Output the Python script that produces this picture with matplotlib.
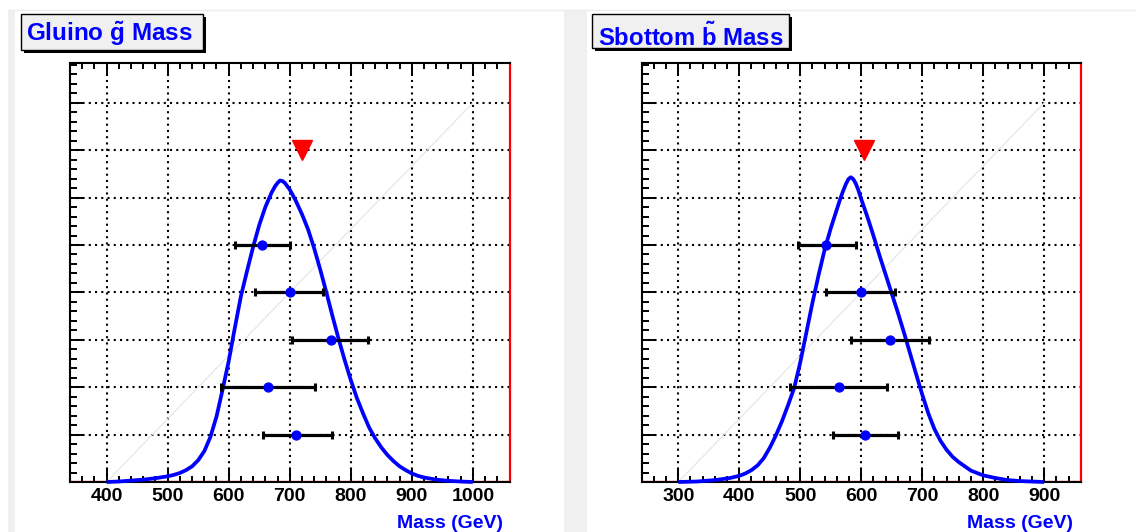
import matplotlib
matplotlib.use('Agg')
import matplotlib.pyplot as plt
from matplotlib.patches import Rectangle
from matplotlib.ticker import MultipleLocator

plt.rcParams['font.family'] = ['Liberation Sans', 'DejaVu Sans']
plt.rcParams['mathtext.fontset'] = 'custom'
plt.rcParams['mathtext.rm'] = 'Liberation Sans:bold'
plt.rcParams['mathtext.bf'] = 'Liberation Sans:bold'
plt.rcParams['mathtext.it'] = 'Liberation Sans:bold'

# ---------------- data ----------------
titles = [r'Gluino $\tilde{\mathbf{g}}$ Mass', r'Sbottom $\tilde{\mathbf{b}}$ Mass']
x_label = 'Mass (GeV)'

# panel 1 : gluino
g_xlim = (340, 1060)
g_xticks = [400, 500, 600, 700, 800, 900, 1000]
g_curve_x = [400, 420, 440, 460, 480, 500, 510, 520, 530, 540, 550, 560, 570, 580, 590,
             600, 610, 620, 630, 640, 650, 660, 670, 676, 680, 684, 688, 692, 700, 710, 720,
             730, 740, 750, 760, 770, 780, 790, 800, 810, 820, 830, 840, 850, 860,
             870, 880, 890, 900, 910, 920, 940, 960, 980, 1000]
g_curve_y = [0.0, 0.01, 0.03, 0.05, 0.08, 0.12, 0.15, 0.19, 0.25, 0.33, 0.46, 0.65, 0.95, 1.38, 1.95,
             2.55, 3.25, 3.92, 4.45, 4.96, 5.42, 5.80, 6.10, 6.24, 6.31, 6.36, 6.35, 6.31, 6.17, 5.93, 5.65,
             5.33, 4.93, 4.48, 4.00, 3.50, 3.02, 2.57, 2.15, 1.77, 1.45, 1.15, 0.92, 0.73, 0.57,
             0.44, 0.33, 0.25, 0.18, 0.13, 0.095, 0.05, 0.025, 0.01, 0.0]
g_meas_y = [5, 4, 3, 2, 1]
g_meas_x = [655, 700, 767, 664, 711]
g_meas_lo = [610, 643, 703, 587, 656]
g_meas_hi = [700, 755, 829, 741, 769]
g_true_x = [720]
g_true_y = [7]
g_diag_x = [400, 1000]
g_diag_y = [0, 8]

# panel 2 : sbottom
b_xlim = (240, 960)
b_xticks = [300, 400, 500, 600, 700, 800, 900]
b_curve_x = [300, 330, 360, 385, 400, 410, 420, 430, 440, 450, 460, 470, 480, 490, 500,
             510, 520, 530, 540, 550, 560, 565, 570, 575, 579, 583, 587, 591, 595, 600, 610,
             620, 630, 640, 650, 660, 670, 680, 690, 700, 710, 720, 730, 740, 750,
             760, 780, 800, 820, 840, 860, 880, 900]
b_curve_y = [0.0, 0.01, 0.04, 0.085, 0.13, 0.18, 0.25, 0.35, 0.50, 0.72, 0.98, 1.28, 1.62, 1.98, 2.52,
             3.15, 3.78, 4.36, 4.90, 5.35, 5.75, 5.95, 6.13, 6.29, 6.39, 6.43, 6.39, 6.30, 6.17, 5.97, 5.60,
             5.20, 4.78, 4.38, 3.98, 3.58, 3.16, 2.72, 2.28, 1.85, 1.45, 1.12, 0.87, 0.68, 0.53,
             0.42, 0.24, 0.14, 0.085, 0.04, 0.02, 0.01, 0.0]
b_meas_y = [5, 4, 3, 2, 1]
b_meas_x = [543, 599, 648, 563, 607]
b_meas_lo = [497, 542, 583, 483, 553]
b_meas_hi = [591, 655, 712, 642, 660]
b_true_x = [605]
b_true_y = [7]
b_diag_x = [300, 900]
b_diag_y = [0, 8]

y_max = 8.84

panels = [
    dict(xlim=g_xlim, xticks=g_xticks, cx=g_curve_x, cy=g_curve_y, my=g_meas_y, mx=g_meas_x,
         lo=g_meas_lo, hi=g_meas_hi, tx=g_true_x, ty=g_true_y, dx=g_diag_x, dy=g_diag_y,
         rect=[70 / 1136, 50 / 532, 439.5 / 1136, 419 / 532]),
    dict(xlim=b_xlim, xticks=b_xticks, cx=b_curve_x, cy=b_curve_y, my=b_meas_y, mx=b_meas_x,
         lo=b_meas_lo, hi=b_meas_hi, tx=b_true_x, ty=b_true_y, dx=b_diag_x, dy=b_diag_y,
         rect=[641.7 / 1136, 50 / 532, 439 / 1136, 419 / 532]),
]

fig = plt.figure(figsize=(11.36, 5.32), dpi=100)
fig.patch.set_facecolor('white')

for p in panels:
    ax = fig.add_axes(p['rect'])
    ax.set_xlim(*p['xlim'])
    ax.set_ylim(0, y_max)
    ax.set_axisbelow(True)
    ax.grid(True, which='major', color='black', linestyle=(0, (1.0, 2.0)), linewidth=1.5)
    ax.plot(p['dx'], p['dy'], color='#e4e4e4', lw=0.8, zorder=1)
    ax.axhline(0.03, color='red', lw=0.9, zorder=2.4)
    ax.plot(p['cx'], p['cy'], color='blue', lw=2.7, clip_on=False, zorder=3,
            solid_joinstyle='round', solid_capstyle='butt')
    xerr = [[m - l for m, l in zip(p['mx'], p['lo'])], [h - m for m, h in zip(p['mx'], p['hi'])]]
    ax.errorbar(p['mx'], p['my'], xerr=xerr, fmt='o', color='blue', ms=6.4, mec='blue',
                ecolor='black', elinewidth=2.3, capsize=2.8, capthick=2.2, zorder=4)
    ax.plot(p['tx'], p['ty'], marker='v', ms=15, color='red', mec='red', ls='none', zorder=5)

    for side in ('top', 'left', 'bottom'):
        ax.spines[side].set_color('black')
        ax.spines[side].set_linewidth(1.5)
    ax.spines['right'].set_color('red')
    ax.spines['right'].set_linewidth(1.6)

    ax.xaxis.set_major_locator(MultipleLocator(100))
    ax.xaxis.set_minor_locator(MultipleLocator(20))
    ax.yaxis.set_major_locator(MultipleLocator(1))
    ax.yaxis.set_minor_locator(MultipleLocator(0.2))
    ax.set_xticks(p['xticks'])
    ax.set_xticklabels([str(t) for t in p['xticks']], fontweight='bold', fontsize=14)
    ax.tick_params(axis='x', which='both', direction='in', top=True, bottom=True,
                   color='black')
    ax.tick_params(axis='x', which='major', length=9.5, width=1.4, pad=4.5)
    ax.tick_params(axis='x', which='minor', length=4.6, width=1.4)
    ax.tick_params(axis='y', which='both', direction='in', left=True, right=False,
                   labelleft=False)
    ax.tick_params(axis='y', which='major', length=10, width=1.4)
    ax.tick_params(axis='y', which='minor', length=5, width=1.4)

# overlay in pixel coordinates
ov = fig.add_axes([0, 0, 1, 1], zorder=10)
ov.set_xlim(0, 1136)
ov.set_ylim(532, 0)
ov.axis('off')
ov.patch.set_alpha(0)

ov.add_patch(Rectangle((8, 10), 7, 522, facecolor='#f0f0f0', edgecolor='none'))
ov.add_patch(Rectangle((564, 10), 23, 522, facecolor='#f0f0f0', edgecolor='none'))
ov.plot([8, 1136], [10, 10], color='#ececec', lw=1)

# title boxes
boxes = [((20.7, 14), 182, 36, (26.5, 40.5), 17.5), ((592.3, 14), 197, 34, (598.0, 46.5), 17.2)]
for ((bx, by), bw, bh, (txx, tyy), fs), title in zip(boxes, titles):
    ov.add_patch(Rectangle((bx + 3, by + 3), bw, bh, facecolor='black', edgecolor='none'))
    ov.add_patch(Rectangle((bx, by), bw, bh, facecolor='#f0f0f0', edgecolor='black', lw=1))
    ov.text(txx, tyy, title, color='blue', fontsize=fs, fontweight='bold',
            ha='left', va='baseline')

for xr in (503, 1073):
    ov.text(xr, 528, x_label, color='blue', fontsize=14, fontweight='bold',
            ha='right', va='baseline')

fig.savefig('out.png', dpi=100)
